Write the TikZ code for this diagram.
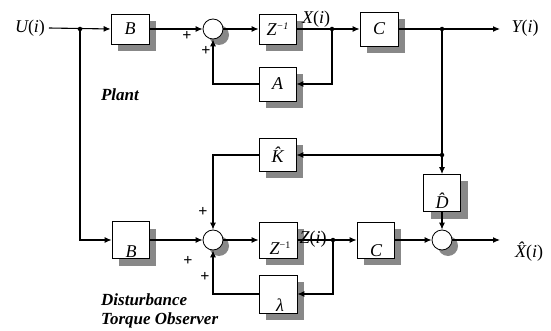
\documentclass[tikz,border=0pt]{standalone}
\usepackage{fontspec}
\setmainfont{Liberation Serif}
\usetikzlibrary{arrows.meta,shadows}
\newcommand{\zinv}{{\itshape Z}\raisebox{6pt}{\fontsize{10}{10}\selectfont −1}}
\begin{document}
\begin{tikzpicture}[x=1pt,y=-1pt,
  shd/.style={drop shadow={shadow xshift=7pt,shadow yshift=-7pt,fill=black!55,opacity=0.85}},
  blk/.style={draw,line width=0.8pt,fill=white,inner sep=0pt,minimum width=37pt,minimum height=32pt,
    font=\fontsize{18}{20}\selectfont\itshape,shd},
  sumc/.style={draw,circle,line width=0.8pt,fill=white,minimum size=20pt,inner sep=0pt,
    drop shadow={shadow xshift=6pt,shadow yshift=-6pt,fill=black!55,opacity=0.85}},
  ln/.style={line width=1.1pt},
  arr/.style={ln,-{Latex[length=7pt,width=6pt]}},
  jdot/.style={circle,fill=black,inner sep=0pt,minimum size=4.5pt},
  sig/.style={font=\fontsize{18}{20}\selectfont,inner sep=1pt},
  bl/.style={font=\fontsize{18}{20}\selectfont\itshape,inner sep=0pt},
  pls/.style={font=\fontsize{16}{16}\selectfont\bfseries,inner sep=0pt},
  ttl/.style={font=\fontsize{17}{19}\selectfont\bfseries\itshape,align=left,inner sep=0pt}
]
\useasboundingbox (0,0) rectangle (551,331);

% blocks
\node[blk,minimum width=38pt,minimum height=30pt] (B1) at (130,29) {B};
\node[sumc] (S1) at (213,29) {};
\node[blk,minimum height=30pt] (Z1) at (277.5,29) {\zinv};
\node[blk,minimum width=38pt,minimum height=34pt] (C1) at (379,29) {C};
\node[blk,minimum height=34pt] (A) at (277.5,84) {A};
\node[blk,minimum height=33pt] (K) at (277.5,155) {\^K};
\node[blk,minimum height=37pt] (D) at (442,193) {};
\node[bl] (Dt) at (442,201) {\^D};
\node[blk,minimum height=37pt] (B2) at (130.5,240) {};
\node[bl] (B2t) at (131,252) {B};
\node[sumc] (S2) at (213,240) {};
\node[blk,minimum width=38pt,minimum height=36pt] (Z2) at (278,240) {};
\node[inner sep=0pt] (Z2t) at (280,248) {\fontsize{18}{20}\selectfont\zinv};
\node[blk,minimum height=36pt] (C2) at (375.5,240) {};
\node[bl] (C2t) at (376,251) {C};
\node[blk,minimum width=38pt,minimum height=38pt] (L) at (278,294) {};
\node[bl] (Lt) at (280,305) {λ};
\node[sumc] (S3) at (442,240) {};

% junctions
\node[jdot] (jU) at (80,29) {};
\node[jdot] (jX) at (332,29) {};
\node[jdot] (jY) at (442,29) {};
\node[jdot] (jK) at (442,155) {};
\node[jdot] (jZ) at (333,240) {};
\coordinate (Yend) at (500,29);
\coordinate (Xend) at (500,240);

% signal labels
\node[sig,outer sep=3pt] (Ut) at (30,28) {{\itshape U}({\itshape i})};
\node[sig] (Yt) at (525,28) {{\itshape Y}({\itshape i})};
\node[sig] (Xt) at (316,19) {{\itshape X}({\itshape i})};
\node[sig] (Zt) at (313,239) {{\itshape Z}({\itshape i})};
\node[sig] (Xht) at (529,252) {{\itshape \^X}({\itshape i})};

% plus signs
\node[pls] (p1) at (187,36) {+};
\node[pls] (p2) at (206,51) {+};
\node[pls] (p3) at (203,212) {+};
\node[pls] (p4) at (188,261) {+};
\node[pls] (p5) at (205,277) {+};

% titles
\node[ttl] (plant) at (120,95) {Plant};
\node[ttl,anchor=west] (dto) at (101,311) {Disturbance\\Torque Observer};

% connectors: plant
\draw[arr] (Ut.east) -- (B1.west);
\draw[arr] (B1.east) -- (S1.west);
\draw[arr] (S1.east) -- (Z1.west);
\draw[arr] (Z1.east) -- (C1.west);
\draw[ln] (C1.east) -- (jY);
\draw[arr] (jY) -- (Yend);
\draw[arr] (jX) |- (A.east);
\draw[arr] (A.west) -| (S1.south);

% connectors: observer
\draw[ln] (jY) -- (jK);
\draw[arr] (jK) -- (D.north);
\draw[arr] (jK) -- (K.east);
\draw[arr] (K.west) -| (S2.north);
\draw[arr] (jU) |- (B2.west);
\draw[arr] (B2.east) -- (S2.west);
\draw[arr] (S2.east) -- (Z2.west);
\draw[arr] (Z2.east) -- (C2.west);
\draw[arr] (C2.east) -- (S3.west);
\draw[arr] (D.south) -- (S3.north);
\draw[arr] (S3.east) -- (Xend);
\draw[arr] (jZ) |- (L.east);
\draw[arr] (L.west) -| (S2.south);
\end{tikzpicture}
\end{document}
